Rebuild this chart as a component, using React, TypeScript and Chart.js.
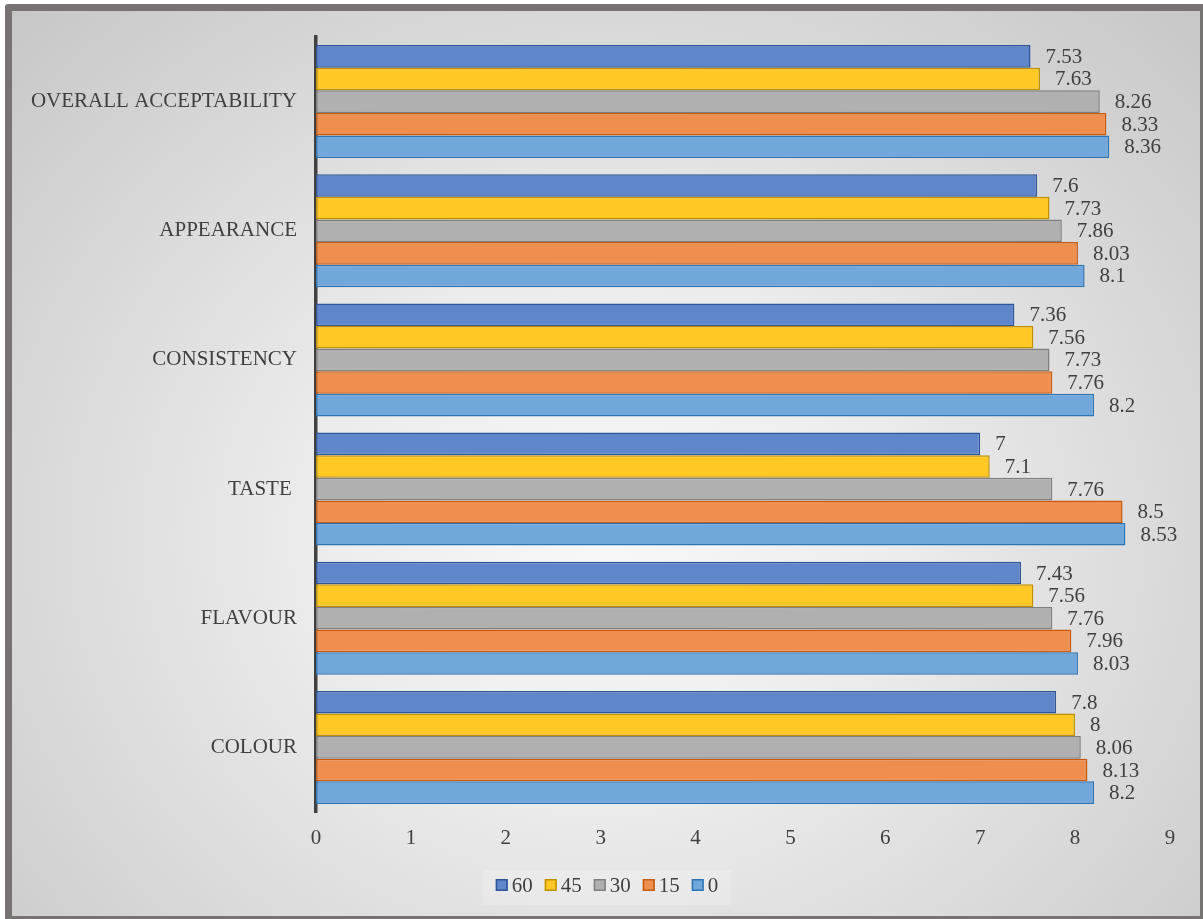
import React, { useEffect, useRef } from "react";
import { Chart, registerables } from "chart.js";

Chart.register(...registerables);

const categories = [
  "OVERALL ACCEPTABILITY",
  "APPEARANCE",
  "CONSISTENCY",
  "TASTE ",
  "FLAVOUR",
  "COLOUR",
];

const seriesNames = ["60", "45", "30", "15", "0"];

const values60 = [7.53, 7.6, 7.36, 7, 7.43, 7.8];
const values45 = [7.63, 7.73, 7.56, 7.1, 7.56, 8];
const values30 = [8.26, 7.86, 7.73, 7.76, 7.76, 8.06];
const values15 = [8.33, 8.03, 7.76, 8.5, 7.96, 8.13];
const values0 = [8.36, 8.1, 8.2, 8.53, 8.03, 8.2];

const xTicks = [0, 1, 2, 3, 4, 5, 6, 7, 8, 9];

const fills = ["#5F85CA", "#FFC824", "#B0B0B0", "#EE8F4F", "#71A7DA"];
const borders = ["#2F5597", "#BF9000", "#7F7F7F", "#C55A11", "#2E75B6"];

const FONT = "'Liberation Serif', 'Times New Roman', serif";
const TEXT = "#404040";
const SIZE = 21;

// value labels to the right of each bar end
const valueLabels = {
  id: "valueLabels",
  afterDatasetsDraw(chart: any) {
    const ctx = chart.ctx;
    ctx.save();
    ctx.font = `${SIZE}px ${FONT}`;
    ctx.fillStyle = TEXT;
    ctx.textAlign = "left";
    ctx.textBaseline = "middle";
    chart.data.datasets.forEach((ds: any, i: number) => {
      const meta = chart.getDatasetMeta(i);
      meta.data.forEach((bar: any, j: number) => {
        ctx.fillText(String(ds.data[j]), bar.x + 15, bar.y + 1);
      });
    });
    ctx.restore();
  },
};

// legend row: square swatch followed by the series name
const legendRow = {
  id: "legendRow",
  afterDraw(chart: any) {
    const ctx = chart.ctx;
    ctx.save();
    ctx.font = `${SIZE}px ${FONT}`;
    const box = 12;
    const gapText = 4;
    const gapItem = 12;
    const widths = seriesNames.map((n) => ctx.measureText(n).width);
    const total =
      widths.reduce((a, w) => a + box + gapText + w, 0) + gapItem * (seriesNames.length - 1);
    let x = chart.width / 2 - total / 2 + 1;
    const cy = 874;
    ctx.fillStyle = "rgba(255,255,255,0.2)";
    ctx.fillRect(x - 13, cy - 15, total + 26, 35);
    seriesNames.forEach((n, i) => {
      ctx.fillStyle = fills[i];
      ctx.fillRect(x, cy - box / 2, box, box);
      ctx.strokeStyle = borders[i];
      ctx.lineWidth = 1.5;
      ctx.strokeRect(x + 0.75, cy - box / 2 + 0.75, box - 1.5, box - 1.5);
      ctx.fillStyle = TEXT;
      ctx.textAlign = "left";
      ctx.textBaseline = "middle";
      ctx.fillText(n, x + box + gapText, cy + 1);
      x += box + gapText + widths[i] + gapItem;
    });
    ctx.restore();
  },
};

export default function App() {
  const ref = useRef<HTMLCanvasElement>(null);

  useEffect(() => {
    if (!ref.current) return;
    const series = [values60, values45, values30, values15, values0];
    const chart = new Chart(ref.current, {
      type: "bar",
      data: {
        labels: categories,
        datasets: series.map((d, i) => ({
          label: seriesNames[i],
          data: d,
          backgroundColor: fills[i],
          borderColor: borders[i],
          borderWidth: 1.5,
          borderSkipped: false,
          barPercentage: 1,
          categoryPercentage: 0.875,
        })),
      },
      options: {
        indexAxis: "y",
        animation: false,
        responsive: false,
        maintainAspectRatio: false,
        layout: { padding: { top: 26, right: 30, bottom: 0, left: 0 } },
        plugins: {
          legend: { display: false },
          tooltip: { enabled: false },
        },
        scales: {
          x: {
            min: 0,
            max: 9,
            afterBuildTicks(scale: any) {
              scale.ticks = xTicks.map((v) => ({ value: v }));
            },
            afterFit(scale: any) {
              scale.height = 104;
            },
            grid: { display: false, drawTicks: false },
            border: { display: false },
            ticks: {
              padding: 14,
              color: TEXT,
              font: { family: FONT, size: SIZE },
            },
          },
          y: {
            afterFit(scale: any) {
              scale.width = 304;
              scale.paddingTop = 0;
              scale.paddingBottom = 0;
            },
            grid: { display: false, drawTicks: false },
            border: { display: true, color: "#404040", width: 3.5 },
            ticks: {
              padding: 19,
              color: TEXT,
              font: { family: FONT, size: SIZE },
            },
          },
        },
      },
      plugins: [valueLabels, legendRow],
    });
    return () => chart.destroy();
  }, []);

  return (
    <div
      style={{
        position: "fixed",
        left: 0,
        top: 0,
        width: 1203,
        height: 919,
        overflow: "hidden",
        background: "#ffffff",
      }}
    >
      <div
        style={{
          position: "absolute",
          left: 5,
          top: 4,
          width: 1202,
          height: 919,
          boxSizing: "border-box",
          border: "7px solid #777373",
          borderRadius: 3,
          background:
            "radial-gradient(ellipse farthest-corner at 50% 58%, #f8f8f8 0%, #ececec 35%, #c7c7c7 100%)",
        }}
      >
        <canvas ref={ref} width={1188} height={905} style={{ display: "block" }} />
      </div>
    </div>
  );
}
